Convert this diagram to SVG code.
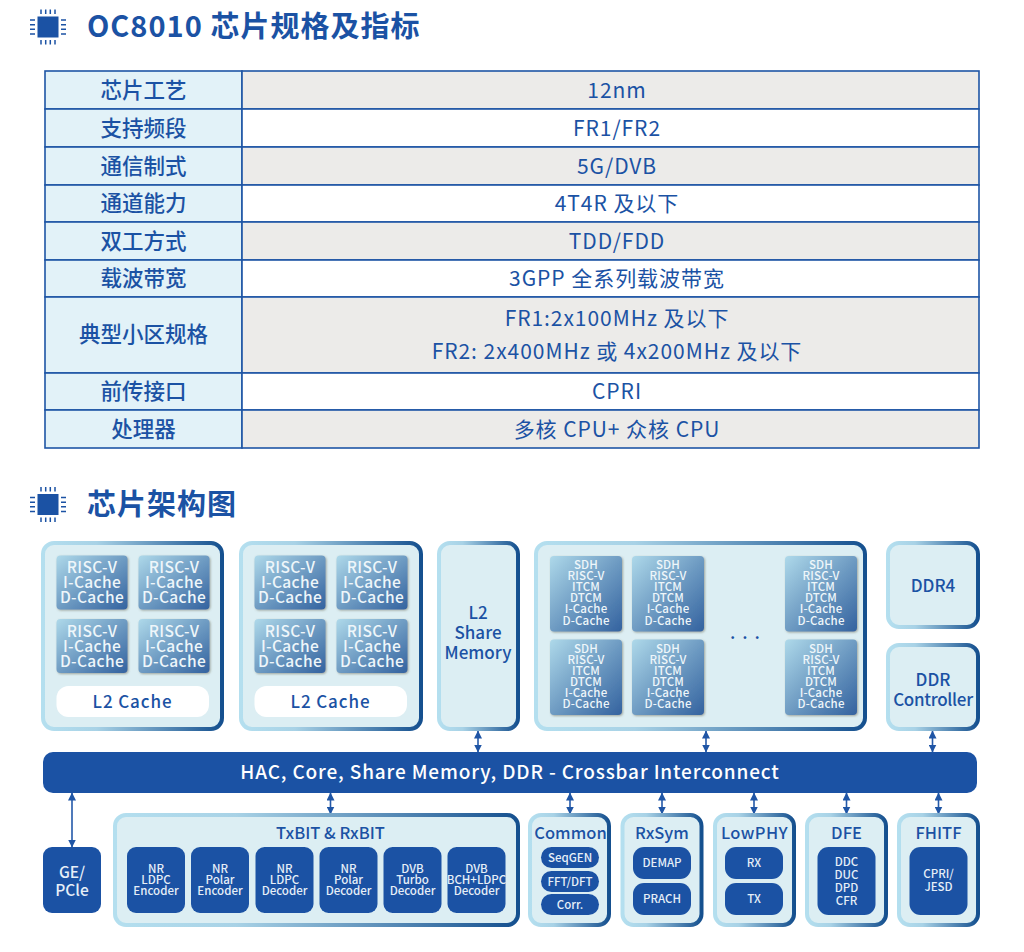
<svg xmlns="http://www.w3.org/2000/svg" width="1024" height="952" viewBox="0 0 1024 952">
<style>
text{font-family:"Noto Sans CJK SC","Noto Sans",sans-serif;text-anchor:middle;fill:#1b52a4}
.h{font-size:29px;font-weight:700;text-anchor:start;letter-spacing:1px}
.tl{font-size:21.5px;font-weight:500}
.tv{font-size:21px;font-weight:400;letter-spacing:.95px}
.lab{fill:#e2f2f8;stroke:#1f55a5;stroke-width:1.6}
.gr{fill:#ecebe9;stroke:#1f55a5;stroke-width:1.6}
.wh{fill:#fff;stroke:#1f55a5;stroke-width:1.6}
.p{fill:#dceef3;stroke:url(#edge);stroke-width:4}
.c{fill:url(#cell);filter:url(#sh)}
.b{fill:#1b52a4}
.ct{font-size:15.5px;font-weight:500;fill:#eef6fa;letter-spacing:.35px}
.st{font-size:11.5px;font-weight:500;fill:#eef6fa;letter-spacing:.2px}
.pt{font-size:17px;font-weight:500}
.l2{letter-spacing:.9px}
.ht{font-size:16.5px;font-weight:500}
.bt{font-size:11.5px;font-weight:500;fill:#e6eff8}
.conn{stroke:#2459a9;stroke-width:1.6;fill:none;marker-start:url(#a);marker-end:url(#a)}
.pin{stroke:#1b52a4;stroke-width:1.5;fill:none}
</style>
<defs>
<linearGradient id="edge" x1="0" y1="0" x2="1" y2="0"><stop offset="0" stop-color="#b4dfef"/><stop offset=".3" stop-color="#a8d2e6"/><stop offset="1" stop-color="#15508f"/></linearGradient>
<linearGradient id="cell" x1="0" y1="0" x2="1" y2="1"><stop offset="0" stop-color="#aed9ea"/><stop offset=".5" stop-color="#6f9cc3"/><stop offset="1" stop-color="#33629f"/></linearGradient>
<filter id="sh" x="-10%" y="-10%" width="125%" height="125%"><feDropShadow dx="1" dy="1" stdDeviation="0.8" flood-color="#6b6b55" flood-opacity=".55"/></filter>
<marker id="a" viewBox="0 0 8 8" refX="7.5" refY="4" markerWidth="8" markerHeight="8" markerUnits="userSpaceOnUse" orient="auto-start-reverse"><path d="M0 0L8 4L0 8Z" fill="#1f55a5"/></marker>
<g id="chip"><rect x="-10.5" y="-10.5" width="21" height="21" class="b"/><path class="pin" d="M-7 -17.5V-13M-2.3 -17.5V-13M2.3 -17.5V-13M7 -17.5V-13M-7 13V17.5M-2.3 13V17.5M2.3 13V17.5M7 13V17.5M-18 -7H-13M-18 -2.3H-13M-18 2.3H-13M-18 7H-13M13 -7H18M13 -2.3H18M13 2.3H18M13 7H18"/></g>
</defs>
<rect width="1024" height="952" fill="#fff"/>

<g id="title-1"><use href="#chip" x="48" y="27"/><text class="h" x="87" y="37">OC8010 芯片规格及指标</text></g>
<g id="title-2"><use href="#chip" x="48" y="504.500"/><text class="h" x="87" y="515">芯片架构图</text></g>

<g id="table">
<g id="row-1"><rect class="lab" x="45" y="71" width="197" height="38"/><rect class="gr" x="242" y="71" width="737" height="38"/><text class="tl" x="143.500" y="98">芯片工艺</text><text class="tv" x="617" y="98">12nm</text></g>
<g id="row-2"><rect class="lab" x="45" y="109" width="197" height="38"/><rect class="wh" x="242" y="109" width="737" height="38"/><text class="tl" x="143.500" y="136">支持频段</text><text class="tv" x="617" y="136">FR1/FR2</text></g>
<g id="row-3"><rect class="lab" x="45" y="147" width="197" height="38"/><rect class="gr" x="242" y="147" width="737" height="38"/><text class="tl" x="143.500" y="174">通信制式</text><text class="tv" x="617" y="174">5G/DVB</text></g>
<g id="row-4"><rect class="lab" x="45" y="185" width="197" height="37"/><rect class="wh" x="242" y="185" width="737" height="37"/><text class="tl" x="143.500" y="211">通道能力</text><text class="tv" x="617" y="211">4T4R 及以下</text></g>
<g id="row-5"><rect class="lab" x="45" y="222" width="197" height="38"/><rect class="gr" x="242" y="222" width="737" height="38"/><text class="tl" x="143.500" y="249">双工方式</text><text class="tv" x="617" y="249">TDD/FDD</text></g>
<g id="row-6"><rect class="lab" x="45" y="260" width="197" height="37"/><rect class="wh" x="242" y="260" width="737" height="37"/><text class="tl" x="143.500" y="286">载波带宽</text><text class="tv" x="617" y="286">3GPP 全系列载波带宽</text></g>
<g id="row-7"><rect class="lab" x="45" y="297" width="197" height="76"/><rect class="gr" x="242" y="297" width="737" height="76"/><text class="tl" x="143.500" y="342">典型小区规格</text><text class="tv" x="617" y="326">FR1:2x100MHz 及以下</text><text class="tv" x="617" y="359">FR2: 2x400MHz 或 4x200MHz 及以下</text></g>
<g id="row-8"><rect class="lab" x="45" y="373" width="197" height="37"/><rect class="wh" x="242" y="373" width="737" height="37"/><text class="tl" x="143.500" y="399">前传接口</text><text class="tv" x="617" y="399">CPRI</text></g>
<g id="row-9"><rect class="lab" x="45" y="410" width="197" height="38"/><rect class="gr" x="242" y="410" width="737" height="38"/><text class="tl" x="143.500" y="437">处理器</text><text class="tv" x="617" y="437">多核 CPU+ 众核 CPU</text></g>
</g>

<g id="connectors">
<path class="conn" d="M478 731V752"/>
<path class="conn" d="M706 731V752"/>
<path class="conn" d="M932.500 731V752"/>
<path class="conn" d="M72 793V847"/>
<path class="conn" d="M330.500 793V814"/>
<path class="conn" d="M570 793V814"/>
<path class="conn" d="M662 793V814"/>
<path class="conn" d="M754 793V814"/>
<path class="conn" d="M846.500 793V814"/>
<path class="conn" d="M938.500 793V814"/>
</g>

<g id="cluster-1"><rect class="p" x="43" y="543" width="179" height="186" rx="11"/>
<g><rect class="c" x="56.500" y="555.500" width="71" height="54" rx="4"/><text class="ct" x="92" y="573"><tspan x="92">RISC-V</tspan><tspan x="92" dy="15.200">I-Cache</tspan><tspan x="92" dy="15.200">D-Cache</tspan></text></g>
<g><rect class="c" x="138.500" y="555.500" width="71" height="54" rx="4"/><text class="ct" x="174" y="573"><tspan x="174">RISC-V</tspan><tspan x="174" dy="15.200">I-Cache</tspan><tspan x="174" dy="15.200">D-Cache</tspan></text></g>
<g><rect class="c" x="56.500" y="619" width="71" height="54" rx="4"/><text class="ct" x="92" y="636.500"><tspan x="92">RISC-V</tspan><tspan x="92" dy="15.200">I-Cache</tspan><tspan x="92" dy="15.200">D-Cache</tspan></text></g>
<g><rect class="c" x="138.500" y="619" width="71" height="54" rx="4"/><text class="ct" x="174" y="636.500"><tspan x="174">RISC-V</tspan><tspan x="174" dy="15.200">I-Cache</tspan><tspan x="174" dy="15.200">D-Cache</tspan></text></g>
<rect x="56.500" y="686" width="152.500" height="31" rx="12" fill="#fff"/><text class="pt l2" x="132.500" y="708">L2 Cache</text></g>

<g id="cluster-2"><rect class="p" x="241" y="543" width="180" height="186" rx="11"/>
<g><rect class="c" x="254.500" y="555.500" width="71" height="54" rx="4"/><text class="ct" x="290" y="573"><tspan x="290">RISC-V</tspan><tspan x="290" dy="15.200">I-Cache</tspan><tspan x="290" dy="15.200">D-Cache</tspan></text></g>
<g><rect class="c" x="336.500" y="555.500" width="71" height="54" rx="4"/><text class="ct" x="372" y="573"><tspan x="372">RISC-V</tspan><tspan x="372" dy="15.200">I-Cache</tspan><tspan x="372" dy="15.200">D-Cache</tspan></text></g>
<g><rect class="c" x="254.500" y="619" width="71" height="54" rx="4"/><text class="ct" x="290" y="636.500"><tspan x="290">RISC-V</tspan><tspan x="290" dy="15.200">I-Cache</tspan><tspan x="290" dy="15.200">D-Cache</tspan></text></g>
<g><rect class="c" x="336.500" y="619" width="71" height="54" rx="4"/><text class="ct" x="372" y="636.500"><tspan x="372">RISC-V</tspan><tspan x="372" dy="15.200">I-Cache</tspan><tspan x="372" dy="15.200">D-Cache</tspan></text></g>
<rect x="254.500" y="686" width="152.500" height="31" rx="12" fill="#fff"/><text class="pt l2" x="330.500" y="708">L2 Cache</text></g>

<g id="l2-share"><rect class="p" x="439" y="543" width="79" height="186" rx="11"/><text class="pt" x="478" y="619"><tspan x="478">L2</tspan><tspan x="478" dy="20">Share</tspan><tspan x="478" dy="20">Memory</tspan></text></g>

<g id="sdh-cluster"><rect class="p" x="536" y="543" width="329" height="186" rx="11"/>
<g><rect class="c" x="550" y="556" width="72" height="75.500" rx="4"/><text class="st" x="586" y="569"><tspan x="586">SDH</tspan><tspan x="586" dy="11.100">RISC-V</tspan><tspan x="586" dy="11.100">ITCM</tspan><tspan x="586" dy="11.100">DTCM</tspan><tspan x="586" dy="11.100">I-Cache</tspan><tspan x="586" dy="11.100">D-Cache</tspan></text></g>
<g><rect class="c" x="632" y="556" width="72" height="75.500" rx="4"/><text class="st" x="668" y="569"><tspan x="668">SDH</tspan><tspan x="668" dy="11.100">RISC-V</tspan><tspan x="668" dy="11.100">ITCM</tspan><tspan x="668" dy="11.100">DTCM</tspan><tspan x="668" dy="11.100">I-Cache</tspan><tspan x="668" dy="11.100">D-Cache</tspan></text></g>
<g><rect class="c" x="785" y="556" width="72" height="75.500" rx="4"/><text class="st" x="821" y="569"><tspan x="821">SDH</tspan><tspan x="821" dy="11.100">RISC-V</tspan><tspan x="821" dy="11.100">ITCM</tspan><tspan x="821" dy="11.100">DTCM</tspan><tspan x="821" dy="11.100">I-Cache</tspan><tspan x="821" dy="11.100">D-Cache</tspan></text></g>
<g><rect class="c" x="550" y="639.500" width="72" height="75.500" rx="4"/><text class="st" x="586" y="652.500"><tspan x="586">SDH</tspan><tspan x="586" dy="11.100">RISC-V</tspan><tspan x="586" dy="11.100">ITCM</tspan><tspan x="586" dy="11.100">DTCM</tspan><tspan x="586" dy="11.100">I-Cache</tspan><tspan x="586" dy="11.100">D-Cache</tspan></text></g>
<g><rect class="c" x="632" y="639.500" width="72" height="75.500" rx="4"/><text class="st" x="668" y="652.500"><tspan x="668">SDH</tspan><tspan x="668" dy="11.100">RISC-V</tspan><tspan x="668" dy="11.100">ITCM</tspan><tspan x="668" dy="11.100">DTCM</tspan><tspan x="668" dy="11.100">I-Cache</tspan><tspan x="668" dy="11.100">D-Cache</tspan></text></g>
<g><rect class="c" x="785" y="639.500" width="72" height="75.500" rx="4"/><text class="st" x="821" y="652.500"><tspan x="821">SDH</tspan><tspan x="821" dy="11.100">RISC-V</tspan><tspan x="821" dy="11.100">ITCM</tspan><tspan x="821" dy="11.100">DTCM</tspan><tspan x="821" dy="11.100">I-Cache</tspan><tspan x="821" dy="11.100">D-Cache</tspan></text></g>
<text x="746" y="639" style="font-size:15px;font-weight:700;letter-spacing:2px">. . .</text></g>

<g id="ddr4"><rect class="p" x="888" y="543" width="90" height="84" rx="11"/><text class="pt" x="933" y="592">DDR4</text></g>
<g id="ddr-controller"><rect class="p" x="888" y="645" width="90" height="84" rx="11"/><text class="pt" x="933" y="686"><tspan x="933">DDR</tspan><tspan x="933" dy="20" style="letter-spacing:-.3px">Controller</tspan></text></g>

<g id="crossbar"><rect class="b" x="43" y="752" width="934" height="41" rx="10"/><text x="510" y="779" style="font-size:19px;font-weight:500;fill:#fff;letter-spacing:.85px">HAC, Core, Share Memory, DDR - Crossbar Interconnect</text></g>

<g id="ge-pcie"><rect class="b" x="43" y="847" width="58" height="66" rx="9"/><text x="72" y="878" style="font-size:15.500px;font-weight:500;fill:#e6eff8"><tspan x="72">GE/</tspan><tspan x="72" dy="18">PCle</tspan></text></g>

<g id="txbit-rxbit"><rect class="p" x="115" y="815" width="403" height="110" rx="11"/><text class="ht" x="330.500" y="839">TxBIT &amp; RxBIT</text>
<g><rect class="b" x="127" y="847" width="58" height="66" rx="9"/><text class="bt" x="156" y="873"><tspan x="156">NR</tspan><tspan x="156" dy="11">LDPC</tspan><tspan x="156" dy="11">Encoder</tspan></text></g>
<g><rect class="b" x="191" y="847" width="58" height="66" rx="9"/><text class="bt" x="220" y="873"><tspan x="220">NR</tspan><tspan x="220" dy="11">Polar</tspan><tspan x="220" dy="11">Encoder</tspan></text></g>
<g><rect class="b" x="255.500" y="847" width="58" height="66" rx="9"/><text class="bt" x="284.500" y="873"><tspan x="284.500">NR</tspan><tspan x="284.500" dy="11">LDPC</tspan><tspan x="284.500" dy="11">Decoder</tspan></text></g>
<g><rect class="b" x="319.500" y="847" width="58" height="66" rx="9"/><text class="bt" x="348.500" y="873"><tspan x="348.500">NR</tspan><tspan x="348.500" dy="11">Polar</tspan><tspan x="348.500" dy="11">Decoder</tspan></text></g>
<g><rect class="b" x="383.500" y="847" width="58" height="66" rx="9"/><text class="bt" x="412.500" y="873"><tspan x="412.500">DVB</tspan><tspan x="412.500" dy="11">Turbo</tspan><tspan x="412.500" dy="11">Decoder</tspan></text></g>
<g><rect class="b" x="447.500" y="847" width="58" height="66" rx="9"/><text class="bt" x="476.500" y="873"><tspan x="476.500">DVB</tspan><tspan x="476.500" dy="11">BCH+LDPC</tspan><tspan x="476.500" dy="11">Decoder</tspan></text></g>
</g>

<g id="common"><rect class="p" x="530" y="815" width="79" height="110" rx="11"/><text class="ht" x="570.500" y="839">Common</text>
<g><rect class="b" x="541" y="847" width="58" height="21" rx="10.500"/><text class="bt" x="570" y="862">SeqGEN</text></g>
<g><rect class="b" x="541" y="871" width="58" height="21" rx="10.500"/><text class="bt" x="570" y="886">FFT/DFT</text></g>
<g><rect class="b" x="541" y="894" width="58" height="21" rx="10.500"/><text class="bt" x="570" y="909">Corr.</text></g></g>

<g id="rxsym"><rect class="p" x="622.500" y="815" width="79" height="110" rx="11"/><text class="ht" x="662" y="839">RxSym</text>
<g><rect class="b" x="633" y="847" width="58" height="32" rx="11"/><text class="bt" x="662" y="867">DEMAP</text></g>
<g><rect class="b" x="633" y="883" width="58" height="32" rx="11"/><text class="bt" x="662" y="903">PRACH</text></g></g>

<g id="lowphy"><rect class="p" x="715" y="815" width="79" height="110" rx="11"/><text class="ht" x="754.500" y="839" style="letter-spacing:.4px">LowPHY</text>
<g><rect class="b" x="725" y="847" width="58" height="32" rx="11"/><text class="bt" x="754" y="867">RX</text></g>
<g><rect class="b" x="725" y="883" width="58" height="32" rx="11"/><text class="bt" x="754" y="903">TX</text></g></g>

<g id="dfe"><rect class="p" x="807" y="815" width="79" height="110" rx="11"/><text class="ht" x="846.500" y="839">DFE</text>
<g><rect class="b" x="817.500" y="847" width="58" height="68" rx="11"/><text class="bt" x="846.500" y="866"><tspan x="846.500">DDC</tspan><tspan x="846.500" dy="13">DUC</tspan><tspan x="846.500" dy="13">DPD</tspan><tspan x="846.500" dy="13">CFR</tspan></text></g></g>

<g id="fhitf"><rect class="p" x="899" y="815" width="79" height="110" rx="11"/><text class="ht" x="938.500" y="839">FHITF</text>
<g><rect class="b" x="909.500" y="847" width="58" height="68" rx="11"/><text class="bt" x="938.500" y="878"><tspan x="938.500">CPRI/</tspan><tspan x="938.500" dy="13">JESD</tspan></text></g></g>
</svg>
